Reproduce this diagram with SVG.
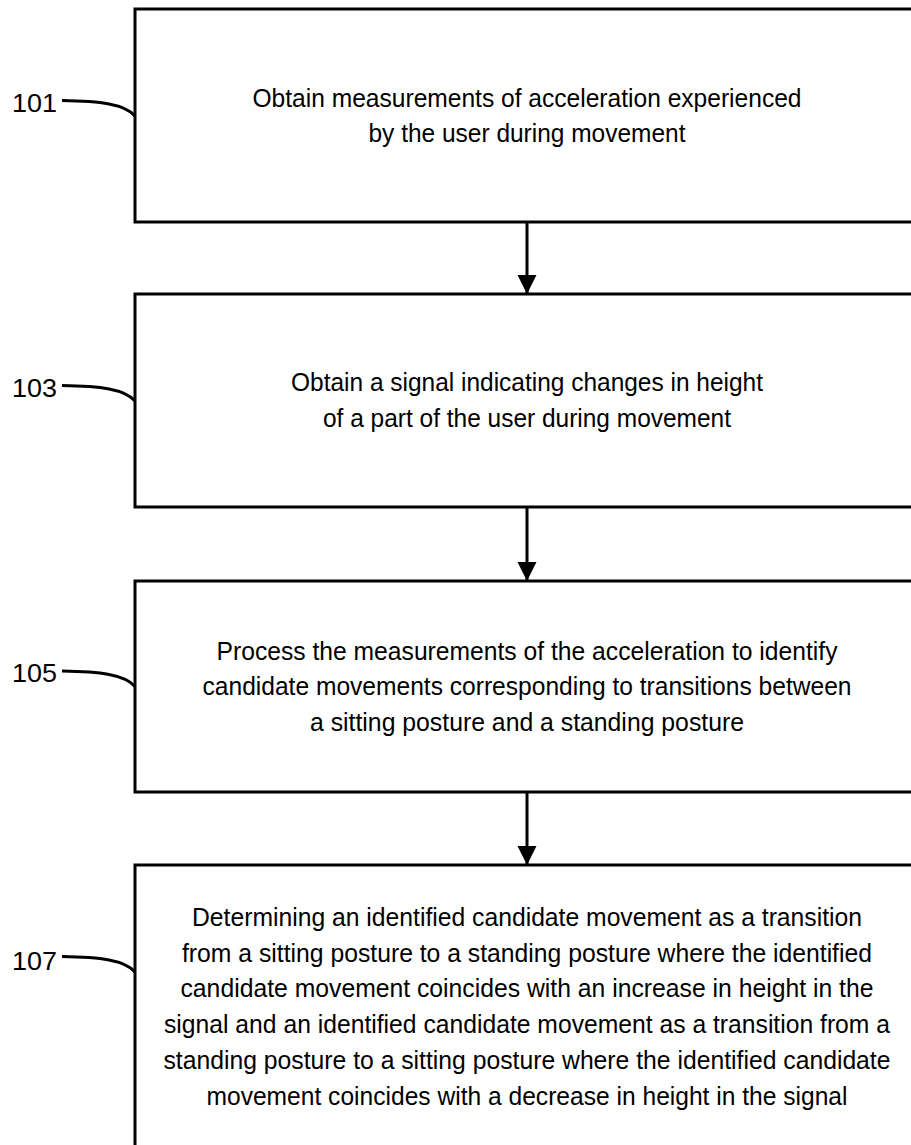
<svg xmlns="http://www.w3.org/2000/svg" width="911" height="1145" viewBox="0 0 911 1145">
<style>
.box{fill:#fff;stroke:#000;stroke-width:3}
.t{font-family:"Liberation Sans",Arial,sans-serif;font-size:26px;fill:#000;text-anchor:middle}
.lbl{font-family:"Liberation Sans",Arial,sans-serif;font-size:26px;fill:#000}
.lead{fill:none;stroke:#000;stroke-width:3}
.conn{stroke:#000;stroke-width:3;fill:none}
</style>
<defs>
<marker id="ah" markerUnits="userSpaceOnUse" markerWidth="20" markerHeight="29" refX="19" refY="9.5" orient="auto">
<path d="M0,0 L19,9.5 L0,19 Z" fill="#000"/>
</marker>
</defs>
<rect width="911" height="1145" fill="#fff"/>
<g id="connectors">
<line class="conn" x1="527" y1="222" x2="527" y2="294" marker-end="url(#ah)"/>
<line class="conn" x1="527" y1="507" x2="527" y2="581" marker-end="url(#ah)"/>
<line class="conn" x1="527" y1="792" x2="527" y2="865" marker-end="url(#ah)"/>
</g>
<g id="node101">
<rect class="box" x="135" y="9" width="790" height="213"/>
<text class="t" x="527" y="107" textLength="549" lengthAdjust="spacingAndGlyphs">Obtain measurements of acceleration experienced</text>
<text class="t" x="527" y="142" textLength="317" lengthAdjust="spacingAndGlyphs">by the user during movement</text>
<text class="lbl" x="12" y="112" textLength="45" lengthAdjust="spacingAndGlyphs">101</text>
<path class="lead" d="M62,100.5 C100,101 125,104 135,116"/>
</g>
<g id="node103">
<rect class="box" x="135" y="294" width="790" height="213"/>
<text class="t" x="527" y="391" textLength="472" lengthAdjust="spacingAndGlyphs">Obtain a signal indicating changes in height</text>
<text class="t" x="527" y="426.5" textLength="408" lengthAdjust="spacingAndGlyphs">of a part of the user during movement</text>
<text class="lbl" x="12" y="397" textLength="45" lengthAdjust="spacingAndGlyphs">103</text>
<path class="lead" d="M62,385.5 C100,386 125,389 135,401"/>
</g>
<g id="node105">
<rect class="box" x="135" y="581" width="790" height="211"/>
<text class="t" x="527" y="659.5" textLength="621" lengthAdjust="spacingAndGlyphs">Process the measurements of the acceleration to identify</text>
<text class="t" x="527" y="695" textLength="649" lengthAdjust="spacingAndGlyphs">candidate movements corresponding to transitions between</text>
<text class="t" x="527" y="730.5" textLength="434" lengthAdjust="spacingAndGlyphs">a sitting posture and a standing posture</text>
<text class="lbl" x="12" y="682" textLength="45" lengthAdjust="spacingAndGlyphs">105</text>
<path class="lead" d="M62,671 C100,671.5 125,674.5 135,686.5"/>
</g>
<g id="node107">
<rect class="box" x="135" y="865" width="790" height="300"/>
<text class="t" x="527" y="926" textLength="670" lengthAdjust="spacingAndGlyphs">Determining an identified candidate movement as a transition</text>
<text class="t" x="527" y="961.7" textLength="690" lengthAdjust="spacingAndGlyphs">from a sitting posture to a standing posture where the identified</text>
<text class="t" x="527" y="997.4" textLength="693" lengthAdjust="spacingAndGlyphs">candidate movement coincides with an increase in height in the</text>
<text class="t" x="527" y="1033.1" textLength="726" lengthAdjust="spacingAndGlyphs">signal and an identified candidate movement as a transition from a</text>
<text class="t" x="527" y="1068.8" textLength="727" lengthAdjust="spacingAndGlyphs">standing posture to a sitting posture where the identified candidate</text>
<text class="t" x="527" y="1104.5" textLength="641" lengthAdjust="spacingAndGlyphs">movement coincides with a decrease in height in the signal</text>
<text class="lbl" x="12" y="970" textLength="45" lengthAdjust="spacingAndGlyphs">107</text>
<path class="lead" d="M62,956.5 C100,957 125,960 135,972"/>
</g>
</svg>
